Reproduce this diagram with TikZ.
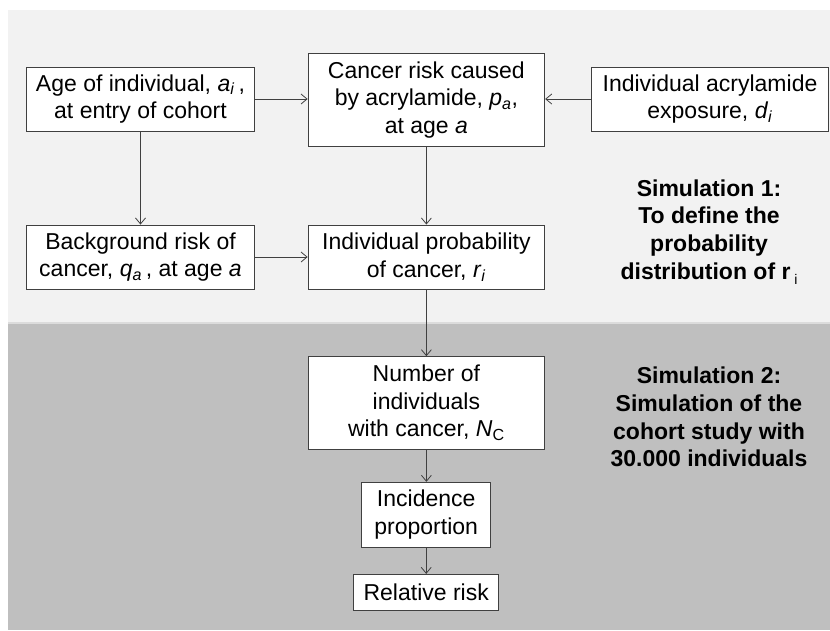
\documentclass[tikz,border=0pt]{standalone}
\usepackage{fontspec}
\setmainfont{Liberation Sans}
\usetikzlibrary{arrows.meta}

\definecolor{panelLight}{HTML}{F2F2F2}
\definecolor{panelDark}{HTML}{BFBFBF}
\definecolor{panelEdge}{HTML}{DCDCDC}
\definecolor{inkLine}{HTML}{404040}

\newcommand{\ivar}[2]{\textit{#1}\textsubscript{\textit{#2}}}

\begin{document}
\begin{tikzpicture}[x=1pt,y=-1pt,
  every node/.style={font=\fontsize{23}{27.6}\selectfont, inner sep=0pt},
  box/.style={draw=inkLine, line width=0.9pt, fill=white, align=center},
  flow/.style={draw=inkLine, line width=0.9pt,
    -{Straight Barb[length=6pt,width=10pt,line width=0.8pt]}},
  simtext/.style={align=center, font=\fontsize{23}{27.6}\selectfont\bfseries}
]
\useasboundingbox (0,0) rectangle (830,630);

% background panels
\fill[white] (0,0) rectangle (830,630);
\fill[panelLight] (8,10) rectangle (830,323);
\fill[panelDark] (8,323) rectangle (830,630);
\draw[panelEdge, line width=1.2pt] (8,323) -- (830,323);

% simulation 1 boxes
\node[box, minimum width=228pt, minimum height=64pt] (age) at (140.5,99)
  {Age of individual, \ivar{a}{i}\,,\\at entry of cohort};
\node[box, minimum width=236.6pt, minimum height=93.4pt] (risk) at (426.4,100)
  {Cancer risk caused\\by acrylamide, \ivar{p}{a},\\at age \textit{a}};
\node[box, minimum width=237pt, minimum height=64pt] (expo) at (710,99)
  {Individual acrylamide\\exposure, \ivar{d}{i}};
\node[box, minimum width=228pt, minimum height=64pt] (bg) at (140.5,257)
  {Background risk of\\cancer, \ivar{q}{a}\,, at age \textit{a}};
\node[box, minimum width=236.6pt, minimum height=64pt] (prob) at (426.4,257)
  {Individual probability\\of cancer, \ivar{r}{i}};

% simulation 2 boxes
\node[box, minimum width=236.6pt, minimum height=92.6pt] (count) at (426.4,403)
  {Number of\\individuals\\with cancer, \textit{N}\textsubscript{C}};
\node[box, minimum width=129pt, minimum height=65pt] (incid) at (426.2,514.8)
  {Incidence\\proportion};
\node[box, minimum width=145pt, minimum height=35.7pt] (rr) at (426.2,592.2)
  {Relative risk};

% side captions
\node[simtext] (sim1) at (709,232)
  {Simulation 1:\\To define the\\probability\\distribution of r\,\raisebox{-0.45ex}{\fontsize{14}{14}\selectfont\mdseries i}};
\node[simtext] (sim2) at (709,417)
  {Simulation 2:\\Simulation of the\\cohort study with\\30.000 individuals};

% connectors
\draw[flow] (age.east) -- (risk.west |- age.east);
\draw[flow] (expo.west) -- (risk.east |- expo.west);
\draw[flow] (age.south) -- (bg.north);
\draw[flow] (risk.south) -- (prob.north);
\draw[flow] (bg.east) -- (prob.west);
\draw[flow] (prob.south) -- (count.north);
\draw[flow] (count.south) -- (incid.north -| count.south);
\draw[flow] (incid.south) -- (rr.north -| incid.south);
\end{tikzpicture}
\end{document}
